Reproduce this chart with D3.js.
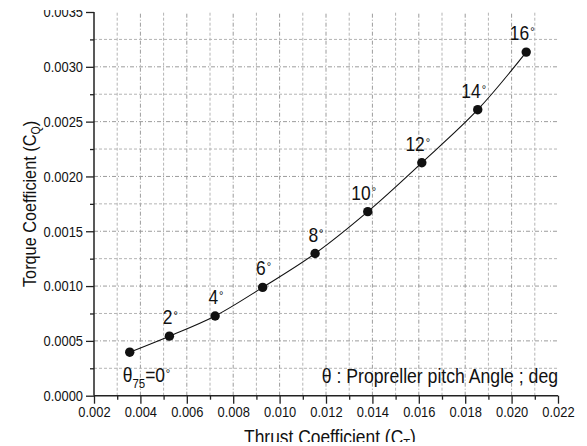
<!DOCTYPE html>
<html>
<head>
<meta charset="UTF-8">
<title>Torque vs Thrust Coefficient</title>
<script src="https://cdn.jsdelivr.net/npm/d3@7"></script>
<style>
  body { margin: 0; background: #fff; }
  text { font-family: "Liberation Sans", Arial, sans-serif; fill: #111; }
</style>
</head>
<body>
<div id="chart"></div>
<script>
// values
var pitchAngles = [0, 2, 4, 6, 8, 10, 12, 14, 16];
var thrustCoef  = [0.00354, 0.00525, 0.00722, 0.00927, 0.01153, 0.01380, 0.01613, 0.01854, 0.02063];
var torqueCoef  = [0.000397, 0.000543, 0.000727, 0.000988, 0.001297, 0.001679, 0.002125, 0.002609, 0.003134];
var xTicks = [0.002, 0.004, 0.006, 0.008, 0.010, 0.012, 0.014, 0.016, 0.018, 0.020, 0.022];
var yTicks = [0, 0.0005, 0.0010, 0.0015, 0.0020, 0.0025, 0.0030, 0.0035];
var xMinor = [0.003, 0.005, 0.007, 0.009, 0.011, 0.013, 0.015, 0.017, 0.019, 0.021];
var yMinor = [0.00025, 0.00075, 0.00125, 0.00175, 0.00225, 0.00275, 0.00325];
var legendText = "θ : Propreller pitch Angle ; deg";

var W = 587, H = 446;
var svg = d3.select("#chart").append("svg")
    .attr("width", W)
    .attr("height", H);

var x = d3.scaleLinear().domain([0.002, 0.022]).range([94, 558]);
var y = d3.scaleLinear().domain([0, 0.0035]).range([395.7, 12]);

// narrow helvetica look: squeeze text horizontally
function squeeze(sel, f) {
  sel.each(function() {
    var w = this.getComputedTextLength();
    this.setAttribute("textLength", w * f);
    this.setAttribute("lengthAdjust", "spacingAndGlyphs");
  });
}

// grid
var grid = svg.append("g");
grid.selectAll(".vmin").data(xMinor).enter().append("line")
    .attr("x1", d => x(d)).attr("x2", d => x(d))
    .attr("y1", y(0)).attr("y2", y(0.0035))
    .attr("stroke", "#b4b4b4").attr("stroke-width", 1).attr("stroke-dasharray", "3,2");
grid.selectAll(".vmaj").data(xTicks.filter(d => d > 0.002 && d < 0.022)).enter().append("line")
    .attr("x1", d => x(d)).attr("x2", d => x(d))
    .attr("y1", y(0)).attr("y2", y(0.0035))
    .attr("stroke", "#9c9c9c").attr("stroke-width", 1).attr("stroke-dasharray", "4,2,1,2");
grid.selectAll(".hmin").data(yMinor).enter().append("line")
    .attr("x1", x(0.002)).attr("x2", x(0.022))
    .attr("y1", d => y(d)).attr("y2", d => y(d))
    .attr("stroke", "#b4b4b4").attr("stroke-width", 1).attr("stroke-dasharray", "3,2");
grid.selectAll(".hmaj").data(yTicks.filter(d => d > 0 && d < 0.0035)).enter().append("line")
    .attr("x1", x(0.002)).attr("x2", x(0.022))
    .attr("y1", d => y(d)).attr("y2", d => y(d))
    .attr("stroke", "#9c9c9c").attr("stroke-width", 1).attr("stroke-dasharray", "4,2,1,2");

// axes
var xAxis = svg.append("g")
    .attr("transform", "translate(0," + y(0) + ")")
    .call(d3.axisBottom(x).tickValues(xTicks).tickFormat(d3.format(".3f")).tickSize(8).tickPadding(3));
var xAxisMinor = svg.append("g")
    .attr("transform", "translate(0," + y(0) + ")")
    .call(d3.axisBottom(x).tickValues(xMinor).tickFormat("").tickSize(4));
var yAxis = svg.append("g")
    .attr("transform", "translate(" + x(0.002) + ",0)")
    .call(d3.axisLeft(y).tickValues(yTicks).tickFormat(d3.format(".4f")).tickSize(8).tickPadding(3));
var yAxisMinor = svg.append("g")
    .attr("transform", "translate(" + x(0.002) + ",0)")
    .call(d3.axisLeft(y).tickValues(yMinor).tickFormat("").tickSize(4));

[xAxis, xAxisMinor, yAxis, yAxisMinor].forEach(function(a) {
  a.select(".domain").remove();
  a.selectAll("line").attr("stroke", "#222").attr("stroke-width", 1.3);
});
svg.append("line")
    .attr("x1", x(0.002)).attr("x2", x(0.022))
    .attr("y1", y(0)).attr("y2", y(0))
    .attr("stroke", "#222").attr("stroke-width", 1.5);
svg.append("line")
    .attr("x1", x(0.002)).attr("x2", x(0.002))
    .attr("y1", y(0.0035)).attr("y2", y(0))
    .attr("stroke", "#222").attr("stroke-width", 1.5);

xAxis.selectAll("text").attr("font-size", 15).attr("fill", "#111")
    .attr("font-family", "Liberation Sans, Arial, sans-serif");
yAxis.selectAll("text").attr("font-size", 15).attr("fill", "#111")
    .attr("font-family", "Liberation Sans, Arial, sans-serif");
squeeze(xAxis.selectAll("text"), 0.86);
squeeze(yAxis.selectAll("text"), 0.86);

// top label is cut off in the picture (clip box is in the axis group's own coordinates)
svg.append("clipPath").attr("id", "topclip")
  .append("rect").attr("x", -120).attr("y", 10).attr("width", 200).attr("height", H - 14);
yAxis.attr("clip-path", "url(#topclip)");

// curve
var pts = pitchAngles.map((a, i) => ({ a: a, t: thrustCoef[i], q: torqueCoef[i] }));
svg.append("path")
    .datum(pts)
    .attr("fill", "none")
    .attr("stroke", "#111")
    .attr("stroke-width", 1.1)
    .attr("d", d3.line().x(d => x(d.t)).y(d => y(d.q)).curve(d3.curveCatmullRom));

svg.selectAll(".pt").data(pts).enter().append("circle")
    .attr("cx", d => x(d.t))
    .attr("cy", d => y(d.q))
    .attr("r", 4.7)
    .attr("fill", "#111");

// point labels
var lab = svg.append("g");
pts.forEach(function(d) {
  var px = x(d.t), py = y(d.q);
  if (d.a === 0) {
    var g0 = lab.append("g")
        .attr("transform", "translate(" + (px - 7) + "," + (py + 30) + ") scale(0.85,1)");
    var t0 = g0.append("text").attr("font-size", 20.5);
    t0.append("tspan").text("θ");
    t0.append("tspan").attr("font-size", 13.5).attr("dy", 6).text("75");
    t0.append("tspan").attr("dy", -6).text("=0");
    lab.append("text").attr("x", px + 36).attr("y", py + 25).attr("font-size", 11).text("°");
  } else {
    var t = lab.append("text")
        .attr("x", px + 3)
        .attr("y", py - 12)
        .attr("text-anchor", "end")
        .attr("font-size", 20.5)
        .text(d.a);
    squeeze(t, 0.85);
    lab.append("text").attr("x", px + 4).attr("y", py - 17).attr("font-size", 11).text("°");
  }
});

// legend note
var lg = svg.append("text")
    .attr("x", 558)
    .attr("y", 383)
    .attr("text-anchor", "end")
    .attr("font-size", 20.5)
    .text(legendText);
squeeze(lg, 0.86);

// axis titles
svg.append("clipPath").attr("id", "botclip")
  .append("rect").attr("x", -300).attr("y", -20).attr("width", 600).attr("height", 18);
var xtg = svg.append("g")
    .attr("transform", "translate(330,444) scale(0.87,1)")
    .attr("clip-path", "url(#botclip)");
var xt = xtg.append("text")
    .attr("text-anchor", "middle")
    .attr("font-size", 20);
xt.append("tspan").text("Thrust Coefficient (C");
xt.append("tspan").attr("font-size", 13).attr("dy", 4).text("T");
xt.append("tspan").attr("dy", -4).text(")");

var yt = svg.append("text")
    .attr("transform", "translate(36,204) rotate(-90) scale(0.88,1)")
    .attr("text-anchor", "middle")
    .attr("font-size", 18.5);
yt.append("tspan").text("Torque Coefficient (C");
yt.append("tspan").attr("font-size", 12).attr("dy", 4).text("Q");
yt.append("tspan").attr("dy", -4).text(")");
</script>
</body>
</html>
